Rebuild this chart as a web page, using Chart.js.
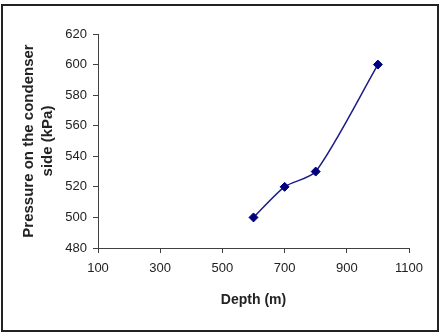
<!DOCTYPE html>
<html>
<head>
<meta charset="utf-8">
<script src="https://cdn.jsdelivr.net/npm/chart.js@4/dist/chart.umd.min.js"></script>
<style>
  html, body { margin: 0; padding: 0; background: #fff; }
  #wrap { width: 443px; height: 332px; position: relative; }
</style>
</head>
<body>
<div id="wrap"><canvas id="c" width="443" height="332"></canvas></div>
<script>
const depth = [600, 700, 800, 1000];
const pressure = [500, 520, 530, 600];
const xTickValues = [100, 300, 500, 700, 900, 1100];
const yTickValues = [480, 500, 520, 540, 560, 580, 600, 620];
const xTitle = 'Depth (m)';
const yTitle = ['Pressure on the condenser', 'side (kPa)'];

const FONT = '"Liberation Sans", Arial, sans-serif';
const AXIS = '#404040';

const frame = {
  id: 'frame',
  afterDraw(chart) {
    const ctx = chart.ctx;
    ctx.save();
    ctx.strokeStyle = '#222';
    ctx.lineWidth = 2;
    ctx.strokeRect(2, 5, 436, 326);
    ctx.restore();
  }
};

new Chart(document.getElementById('c'), {
  type: 'scatter',
  data: {
    datasets: [{
      data: depth.map((d, i) => ({ x: d, y: pressure[i] })),
      showLine: true,
      borderColor: '#1c1c86',
      borderWidth: 1.5,
      tension: 0.25,
      pointStyle: 'rectRot',
      pointRadius: 4.5,
      pointHoverRadius: 4.5,
      pointBackgroundColor: '#000080',
      pointBorderColor: '#000080',
      pointBorderWidth: 1
    }]
  },
  options: {
    responsive: false,
    animation: false,
    devicePixelRatio: 1,
    layout: { padding: { left: 10, right: 34, top: 34, bottom: 0 } },
    plugins: { legend: { display: false }, tooltip: { enabled: false } },
    scales: {
      x: {
        type: 'linear',
        min: xTickValues[0],
        max: xTickValues[xTickValues.length - 1],
        afterBuildTicks: (s) => { s.ticks = xTickValues.map(v => ({ value: v })); },
        afterFit: (s) => { s.height = 84; },
        grid: { display: true, drawOnChartArea: false, drawTicks: true, tickLength: 5, color: AXIS },
        border: { display: true, color: AXIS, width: 1 },
        ticks: { color: '#222', padding: 8, maxRotation: 0, autoSkip: false,
                 callback: (v) => String(v),
                 font: { family: FONT, size: 13 } },
        title: { display: true, text: xTitle, color: '#222',
                 font: { family: FONT, size: 14, weight: 'bold', lineHeight: 1.2 },
                 padding: { top: 0, bottom: 23.6 } }
      },
      y: {
        type: 'linear',
        min: yTickValues[0],
        max: yTickValues[yTickValues.length - 1],
        afterBuildTicks: (s) => { s.ticks = yTickValues.map(v => ({ value: v })); },
        afterFit: (s) => { s.width = 88; },
        grid: { display: true, drawOnChartArea: false, drawTicks: true, tickLength: 5, color: AXIS },
        border: { display: true, color: AXIS, width: 1 },
        ticks: { color: '#222', padding: 6, autoSkip: false,
                 callback: (v) => String(v),
                 font: { family: FONT, size: 13 } },
        title: { display: true, text: yTitle, color: '#222',
                 font: { family: FONT, size: 15, weight: 'bold', lineHeight: 1.27 },
                 padding: { top: 9.5, bottom: 0 } }
      }
    }
  },
  plugins: [frame]
});
</script>
</body>
</html>
